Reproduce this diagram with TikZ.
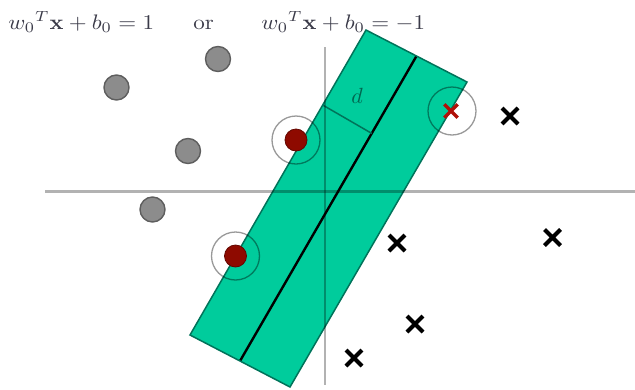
\documentclass[tikz,border=0pt]{standalone}
\usepackage{amsmath}
\usetikzlibrary{calc,shapes.misc}
\definecolor{teal1}{HTML}{00CC9C}
\definecolor{tealedge}{HTML}{00735A}
\definecolor{dcol}{HTML}{006650}
\definecolor{dotred}{HTML}{8E0A00}
\definecolor{xred}{HTML}{B01008}
\definecolor{grayfill}{HTML}{8C8C8C}
\definecolor{grayedge}{HTML}{5E5E5E}
\definecolor{txt}{HTML}{3A3A48}
\tikzset{
  graydot/.style={circle,fill=grayfill,draw=grayedge,line width=1.4pt,minimum size=25pt,inner sep=0pt},
  reddot/.style={circle,fill=dotred,draw=dotred!70!black,line width=0.8pt,minimum size=22pt,inner sep=0pt},
  ring/.style={circle,draw=black,draw opacity=0.4,line width=1.3pt,minimum size=48pt,inner sep=0pt},
  blackx/.style={cross out,draw=black,line width=4pt,minimum size=12pt,inner sep=0pt},
  redx/.style={cross out,draw=xred,line width=3.4pt,minimum size=10pt,inner sep=0pt},
  axis/.style={draw=black,draw opacity=0.3,line width=2.6pt},
  eq/.style={anchor=base west,inner sep=0pt,text=txt,xscale=2.3,yscale=2.1,transform shape}
}
\begin{document}
\begin{tikzpicture}[x=1pt,y=-1pt]
\useasboundingbox (0,0) rectangle (635,389);
% equations
\node[eq] (eq1) at (8,29) {$w_0{}^T\mathbf{x}+b_0=1$};
\node[eq] (or) at (193,29) {or};
\node[eq] (eq2) at (261,29) {$w_0{}^T\mathbf{x}+b_0=-1$};
% margin band
\coordinate (TL) at (366,30);
\coordinate (TR) at (467,82);
\coordinate (BR) at (290,387);
\coordinate (BL) at (190,335);
\fill[teal1] (TL) -- (TR) -- (BR) -- (BL) -- cycle;
\coordinate (c1) at ($(TL)!0.5!(TR)$);
\coordinate (c2) at ($(BL)!0.5!(BR)$);
\draw[black,line width=2.4pt] (c1) -- (c2);
\coordinate (dstart) at ($(TL)!0.246!(BL)$);
\coordinate (dfoot) at ($(c1)!(dstart)!(c2)$);
\draw[tealedge,line width=1.5pt] (dstart) -- (dfoot);
\node[text=dcol,scale=2.2] (dlab) at (357,96) {$d$};
\draw[tealedge,line width=1.5pt,line join=miter] (TL) -- (TR) -- (BR) -- (BL) -- cycle;
% axes
\coordinate (vtop) at (325,47);
\coordinate (vbot) at (325,385);
\coordinate (hl) at (45,191.7);
\coordinate (hr) at (635,191.7);
\draw[axis] (vtop) -- (vbot);
\draw[axis] (hl) -- (hr);
% gray class
\node[graydot] (g1) at (116.5,87.5) {};
\node[graydot] (g2) at (218,59) {};
\node[graydot] (g3) at (188,151) {};
\node[graydot] (g4) at (152.5,209.5) {};
% support vectors
\node[reddot] (s1) at (296,140) {};
\node[ring] (r1) at (296,140) {};
\node[reddot] (s2) at (235.5,256) {};
\node[ring] (r2) at (235.5,256) {};
\node[redx] (s3) at (451,111) {};
\node[ring] (r3) at (452,111) {};
% crosses
\node[blackx] (x1) at (510,116) {};
\node[blackx] (x2) at (397,243) {};
\node[blackx] (x3) at (552.5,237.5) {};
\node[blackx] (x4) at (415,324) {};
\node[blackx] (x5) at (354,358) {};
\end{tikzpicture}
\end{document}
